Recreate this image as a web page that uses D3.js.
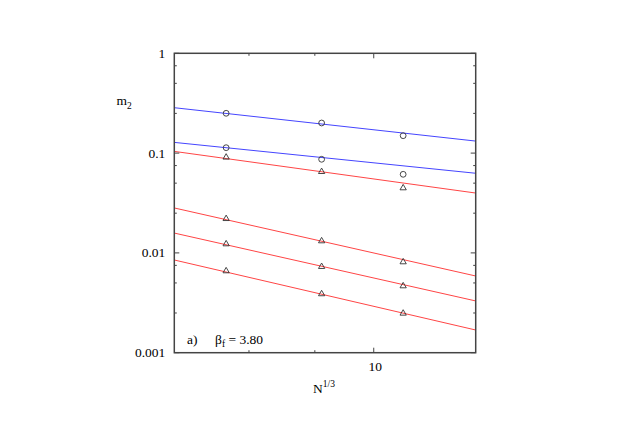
<!DOCTYPE html>
<html><head><meta charset="utf-8">
<script src="https://cdn.jsdelivr.net/npm/d3@7"></script>
<style>body{margin:0;background:#fff}svg{display:block}</style>
</head><body><svg id="c" width="623" height="440" font-family="'Liberation Serif', 'Times New Roman', Times, serif"></svg>
<script>
// N^{1/3} values of the three lattices
const xVals = [7.68, 9.11, 10.54];
// circle series (blue fits)
const circleA = [0.2505, 0.2003, 0.1494];
const circleB = [0.1133, 0.0867, 0.0613];
// triangle series (red fits)
const triA = [0.0908, 0.0651, 0.0447];
const triB = [0.0220, 0.01316, 0.00811];
const triC = [0.01228, 0.00728, 0.00466];
const triD = [0.00659, 0.00388, 0.00248];
// fitted power-law lines: value at x = 7 and at x = 12
const fitXs = [7, 12];
const fitBlueA = [0.285, 0.132];
const fitBlueB = [0.128, 0.0628];
const fitRedA = [0.104, 0.0398];
const fitRedB = [0.0282, 0.00587];
const fitRedC = [0.0158, 0.00330];
const fitRedD = [0.00849, 0.001688];
// ticks
const yMajor = [1, 0.1, 0.01, 0.001];
const yMajorLabels = ["1", "0.1", "0.01", "0.001"];
const yMinorMult = [0.25, 0.5, 0.75];
const xMajor = [10];
const xMinor = [8, 9];

const svg = d3.select("#c");
const L = 174.3, R = 475.7, T = 53.3, B = 352.7;
const x = d3.scaleLog().domain([7, 12]).range([L, R]);
const y = d3.scaleLog().domain([0.001, 1]).range([B, T]);
const FONT = "'Liberation Serif', 'Times New Roman', Times, serif";

const axisColor = "#444";
const yMinor = [];
[1, 0.1, 0.01].forEach(d => yMinorMult.forEach(m => yMinor.push(d * m)));

const g = svg.append("g");
const line = d3.line().x(d => x(d[0])).y(d => y(d[1]));
const fits = [[fitBlueA, "#4545ff"], [fitBlueB, "#4545ff"], [fitRedA, "#ff4545"], [fitRedB, "#ff4545"], [fitRedC, "#ff4545"], [fitRedD, "#ff4545"]];
fits.forEach(([f, c]) => {
  g.append("path").attr("d", line(fitXs.map((xx, i) => [xx, f[i]])))
    .attr("fill", "none").attr("stroke", c).attr("stroke-width", 1);
});
[circleA, circleB].forEach(s => {
  s.forEach((v, i) => g.append("circle").attr("cx", x(xVals[i])).attr("cy", y(v)).attr("r", 2.9)
    .attr("fill", "none").attr("stroke", "#333").attr("stroke-width", 0.9));
});
const tri = d3.symbol().type(d3.symbolTriangle).size(17);
[triA, triB, triC, triD].forEach(s => {
  s.forEach((v, i) => g.append("path").attr("d", tri()).attr("transform", `translate(${x(xVals[i])},${y(v)})`)
    .attr("fill", "none").attr("stroke", "#333").attr("stroke-width", 0.9));
});

const tk = svg.append("g").attr("stroke", axisColor).attr("stroke-width", 1);
yMajor.forEach(v => {
  tk.append("line").attr("x1", L).attr("x2", L + 5).attr("y1", y(v)).attr("y2", y(v));
  tk.append("line").attr("x1", R).attr("x2", R - 5).attr("y1", y(v)).attr("y2", y(v));
});
yMinor.forEach(v => {
  tk.append("line").attr("x1", L).attr("x2", L + 2.5).attr("y1", y(v)).attr("y2", y(v));
  tk.append("line").attr("x1", R).attr("x2", R - 2.5).attr("y1", y(v)).attr("y2", y(v));
});
xMajor.forEach(v => {
  tk.append("line").attr("x1", x(v)).attr("x2", x(v)).attr("y1", B).attr("y2", B - 5);
  tk.append("line").attr("x1", x(v)).attr("x2", x(v)).attr("y1", T).attr("y2", T + 5);
});
xMinor.forEach(v => {
  tk.append("line").attr("x1", x(v)).attr("x2", x(v)).attr("y1", B).attr("y2", B - 2.5);
  tk.append("line").attr("x1", x(v)).attr("x2", x(v)).attr("y1", T).attr("y2", T + 2.5);
});
svg.append("rect").attr("x", L).attr("y", T).attr("width", R - L).attr("height", B - T)
  .attr("fill", "none").attr("stroke", axisColor).attr("stroke-width", 1.5);

const txt = (sel) => sel.append("text").attr("font-family", FONT).attr("fill", "#000");
yMajor.forEach((v, i) => {
  txt(svg).attr("x", L - 9).attr("y", y(v) + 4.5).attr("text-anchor", "end")
    .attr("font-size", 13.5).text(yMajorLabels[i]);
});
xMajor.forEach(v => {
  txt(svg).attr("x", x(v) + 1.5).attr("y", 371).attr("text-anchor", "middle")
    .attr("font-size", 13.5).text(d3.format("d")(v));
});
const xt = txt(svg).attr("x", 313).attr("y", 393).attr("font-size", 13.5);
xt.append("tspan").text("N");
xt.append("tspan").attr("font-size", 9.5).attr("dy", -6).text("1/3");
const yt = txt(svg).attr("x", 116.5).attr("y", 105).attr("font-size", 13.5);
yt.append("tspan").text("m");
yt.append("tspan").attr("font-size", 9.5).attr("dy", 4).text("2");
txt(svg).attr("x", 187).attr("y", 343.5).attr("font-size", 13.5).text("a)");
const an = txt(svg).attr("x", 215).attr("y", 343.5).attr("font-size", 13.5);
an.append("tspan").text("β");
an.append("tspan").attr("font-size", 9.5).attr("dy", 3).text("f");
an.append("tspan").attr("dy", -3).text(" = 3.80");
</script></body></html>
